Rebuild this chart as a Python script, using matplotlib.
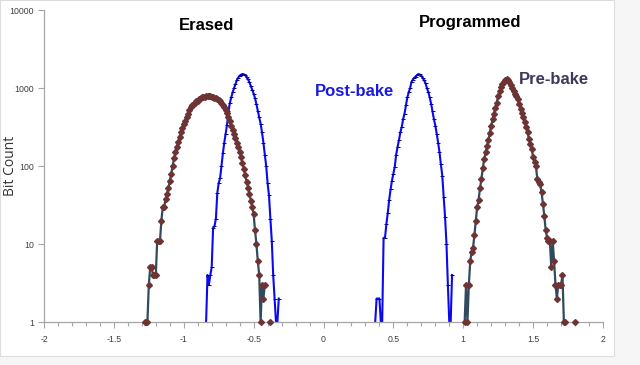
import numpy as np
import matplotlib
matplotlib.use("Agg")
import matplotlib.pyplot as plt
from matplotlib.ticker import MultipleLocator, FixedLocator, NullLocator
from matplotlib.patches import Rectangle

# bit counts per 0.01 V bin (0 = empty bin)
erased_pre_start = -1.28
erased_pre = [1, 1, 1, 3, 5, 5, 4, 4, 4, 11,
              11, 11, 20, 30, 30, 38, 44, 52, 65, 78,
              100, 125, 150, 177, 202, 238, 272, 310, 345, 382,
              425, 470, 520, 565, 600, 625, 648, 672, 690, 720,
              742, 760, 776, 768, 785, 790, 780, 792, 770, 762,
              750, 742, 725, 705, 672, 640, 610, 570, 525, 480,
              420, 375, 330, 290, 260, 230, 200, 175, 152, 130,
              110, 92, 76, 63, 53, 44, 36, 30, 24, 15,
              10, 6, 4, 1, 3, 2, 3, 0, 0, 0,
              1]

erased_post_start = -0.84
erased_post = [1, 4, 3, 4, 5, 16, 17, 21, 45, 60,
               70, 100, 145, 200, 260, 340, 500, 640, 760, 880,
               1000, 1120, 1260, 1360, 1440, 1480, 1510, 1500, 1450, 1390,
               1290, 1180, 1060, 950, 850, 740, 620, 510, 420, 350,
               270, 200, 140, 100, 60, 42, 21, 11, 4, 2,
               1, 1, 2, 0, 1]

prog_post_start = 0.35
prog_post = [1, 0, 1, 2, 2, 2, 1, 1, 12, 12,
             18, 25, 37, 50, 65, 80, 98, 140, 175, 215,
             270, 318, 400, 470, 600, 760, 880, 1000, 1200, 1280,
             1360, 1400, 1470, 1510, 1490, 1430, 1350, 1250, 1150, 1000,
             890, 760, 630, 500, 400, 330, 260, 200, 150, 105,
             75, 40, 22, 10, 3, 1, 1, 4, 0, 1]

prog_pre_start = 1.01
prog_pre = [1, 3, 1, 3, 6, 8, 9, 13, 20, 30,
            37, 52, 68, 95, 122, 150, 180, 215, 268, 330,
            395, 470, 560, 650, 800, 910, 1020, 1110, 1180, 1260,
            1300, 1250, 1180, 1080, 1000, 920, 850, 790, 720, 630,
            540, 480, 430, 365, 315, 270, 220, 190, 165, 130,
            112, 100, 68, 62, 58, 46, 33, 23, 15, 12,
            11, 11, 5, 11, 6, 3, 2, 3, 3, 3,
            4, 1, 1, 0, 0, 0, 0, 0, 0, 1]

x_ticks = [-2, -1.5, -1, -0.5, 0, 0.5, 1, 1.5, 2]
x_tick_labels = ["-2", "-1.5", "-1", "-0.5", "0", "0.5", "1", "1.5", "2"]
y_ticks = [1, 10, 100, 1000, 10000]
y_tick_labels = ["1", "10", "100", "1000", "10000"]


def series(start, counts):
    x = start + 0.01 * np.arange(len(counts))
    y = np.array(counts, dtype=float)
    y[y == 0] = np.nan
    return x, y


fig = plt.figure(figsize=(6.4, 3.65), dpi=100, facecolor="#f6f6f6")
fig.patches.append(Rectangle((0, 9 / 365), 614 / 640, 356 / 365,
                             transform=fig.transFigure, facecolor="white",
                             edgecolor="#dddddd", lw=0.8, zorder=-5))
ax = fig.add_axes([44 / 640, 43 / 365, 559 / 640, 312 / 365])
ax.set_facecolor("none")

pre_line = "#2f4b5f"
pre_mark = "#6e3434"
blue = "#0a0aee"

for start, counts in [(erased_pre_start, erased_pre), (prog_pre_start, prog_pre)]:
    x, y = series(start, counts)
    ax.plot(x, y, color=pre_line, lw=1.6, marker="D", ms=3.0,
            mfc=pre_mark, mec=pre_mark, zorder=3, clip_on=False)

for start, counts in [(erased_post_start, erased_post), (prog_post_start, prog_post)]:
    x, y = series(start, counts)
    ax.plot(x, y, color=blue, lw=1.5, marker="_", ms=2.5, mew=0.7,
            mec="#0000a0", zorder=2, clip_on=False)

ax.set_yscale("log")
ax.set_ylim(1, 10000)
ax.set_xlim(-2, 2)
ax.yaxis.set_major_locator(FixedLocator(y_ticks))
ax.yaxis.set_minor_locator(NullLocator())
ax.set_yticklabels(y_tick_labels)
ax.xaxis.set_major_locator(FixedLocator(x_ticks))
ax.xaxis.set_minor_locator(MultipleLocator(0.1))
ax.set_xticklabels(x_tick_labels)

for s in ["top", "right"]:
    ax.spines[s].set_visible(False)
for s in ["left", "bottom"]:
    ax.spines[s].set_color("#a6a6a6")
    ax.spines[s].set_linewidth(0.9)
ax.tick_params(which="both", colors="#a6a6a6", labelcolor="#404040",
               labelsize=6.3, length=4, width=0.8)
ax.tick_params(which="minor", length=3)
ax.tick_params(axis="y", pad=3)
ax.tick_params(axis="x", pad=5)
for lab in ax.get_xticklabels() + ax.get_yticklabels():
    lab.set_family("Liberation Sans")

ax.set_ylabel("Bit Count", fontsize=10, color="#333333", family="Open Sans")
ax.yaxis.set_label_coords(-26 / 559, 0.5)

ax.text(-0.84, 6400, "Erased", ha="center", va="center", fontsize=12,
        fontweight="bold", family="Liberation Sans", color="black")
ax.text(1.05, 7000, "Programmed", ha="center", va="center", fontsize=12,
        fontweight="bold", family="Liberation Sans", color="black")
ax.text(0.225, 915, "Post-bake", ha="center", va="center", fontsize=12,
        fontweight="bold", family="Liberation Sans", color="#1a1ae0")
ax.text(1.65, 1300, "Pre-bake", ha="center", va="center", fontsize=12,
        fontweight="bold", family="Liberation Sans", color="#3c3a5c")

fig.savefig("out.png", dpi=100, facecolor=fig.get_facecolor())
